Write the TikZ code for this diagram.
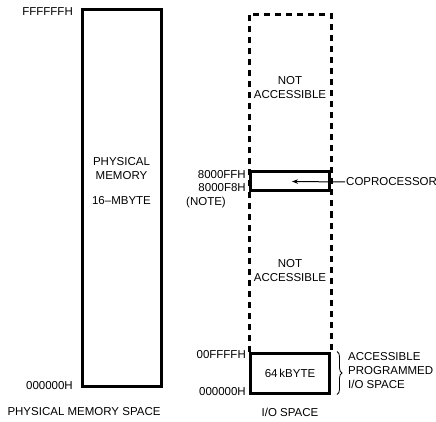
\documentclass[tikz,border=0pt]{standalone}
\usepackage{fontspec}
\setmainfont{Liberation Sans}
\usetikzlibrary{arrows.meta, positioning, decorations.pathreplacing}
\begin{document}
\begin{tikzpicture}[x=1pt, y=-1pt,
        font=\fontsize{11.5}{14}\selectfont,
        region/.style={rectangle, line width=3pt, minimum width=79pt, inner sep=0pt},
        lbl/.style={inner sep=1pt, align=center},
        arrow/.style={-{Stealth[length=6pt, width=4.5pt]}, line width=1pt}
    ]
        \useasboundingbox (0,0) rectangle (436,422);

        \node[region, draw, minimum height=376pt] (phys) at (121.5,198) {};
        \node[region, minimum height=377pt]       (io)   at (290,204.5) {};
        \node[region, draw, fill=white, minimum height=40pt] (kb) at (290,373) {64\,kBYTE};
        \draw[line width=3pt, dash pattern=on 6pt off 5pt] (kb.north west) -- (io.north west) -- (io.north east) -- (kb.north east);
        \node[region, draw, fill=white, minimum height=19pt] (cop) at (290,181.5) {};

        \node[lbl] (physname) at (121.5,168.5) {PHYSICAL\\MEMORY};
        \node[lbl] (physsize) at (121.5,201)   {16--MBYTE};
        \node[lbl] (na1) at (290,88)  {NOT\\ACCESSIBLE};
        \node[lbl] (na2) at (290,271) {NOT\\ACCESSIBLE};

        \node[lbl, anchor=east] (top)  at (74,12)  {FFFFFFH};
        \node[lbl, anchor=east] (bot)  at (74,386) {000000H};
        \node[lbl] (physcap) at (84,412)  {PHYSICAL MEMORY SPACE};
        \node[lbl] (iocap)   at (290,412) {I/O SPACE};

        \node[lbl, anchor=east] (cophi) at (247,175) {8000FFH};
        \node[lbl, anchor=east] (coplo) at (247,188) {8000F8H};
        \node[lbl] (note) at (206,203) {(NOTE)};
        \node[lbl, anchor=east] (kbhi) at (247,355) {00FFFFH};
        \node[lbl, anchor=east] (kblo) at (247,392) {000000H};

        \node[lbl, anchor=west] (coplabel) at (345,182) {COPROCESSOR};
        \draw[arrow] (coplabel.west) -- ([xshift=2pt]cop.center);

        \draw[decorate, decoration={brace, amplitude=5pt}, line width=0.8pt] ([xshift=6pt]kb.north east) -- ([xshift=6pt]kb.south east);
        \node[lbl, anchor=west, align=left] (acc) at (347,371) {ACCESSIBLE\\PROGRAMMED\\I/O SPACE};
    \end{tikzpicture}
\end{document}
